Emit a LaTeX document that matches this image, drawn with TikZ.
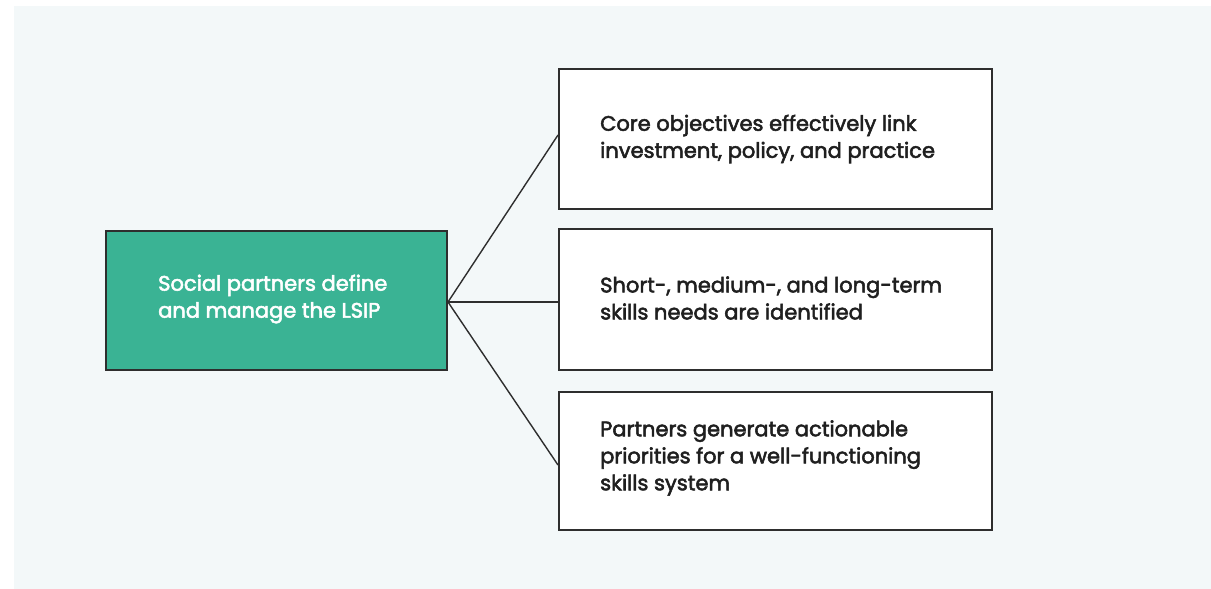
\documentclass[tikz,border=0pt]{standalone}
\usepackage{fontspec}
\setmainfont{Poppins}
\newfontfamily\popmed{Poppins}[FakeBold=2.5]
\definecolor{panel}{HTML}{F3F8F9}
\definecolor{teal}{HTML}{3AB394}
\definecolor{edge}{HTML}{2E2E2E}
\begin{document}
\begin{tikzpicture}[x=1pt,y=-1pt,
  box/.style={draw=edge,line width=2pt,inner sep=0pt},
  rbox/.style={box,fill=white,minimum width=433pt},
  txt/.style={font=\popmed\fontsize{21}{27}\selectfont,align=left,inner sep=0pt,text=black!88},
  link/.style={draw=edge,line width=1.4pt}]
\useasboundingbox (0,0) rectangle (1211,589);
\fill[white] (0,0) rectangle (1211,589);
\fill[panel] (14,6) rectangle (1211,589);
\node[box,fill=teal,minimum width=341pt,minimum height=139pt] (l) at (276.5,300.5) {};
\node[rbox,minimum height=140pt] (b1) at (775.5,139) {};
\node[rbox,minimum height=141pt] (b2) at (775.5,299.5) {};
\node[rbox,minimum height=138pt] (b3) at (775.5,461) {};
\node[txt,text=white,anchor=west] (lt) at (158,299) {Social partners define\\and manage the LSIP};
\node[txt,anchor=west] (t1) at (600,139) {Core objectives effectively link\\investment, policy, and practice};
\node[txt,anchor=west] (t2) at (600,298) {Short-, medium-, and long-term\\skills needs are identified};
\node[txt,anchor=west] (t3) at (600,458) {Partners generate actionable\\priorities for a well-functioning\\skills system};
\coordinate (hub) at ([yshift=-1.5pt]l.east);
\draw[link] (hub) -- ([yshift=4pt]b1.west);
\draw[link] (hub) -- (hub -| b2.west);
\draw[link] (hub) -- ([yshift=-4pt]b3.west);
\end{tikzpicture}
\end{document}
